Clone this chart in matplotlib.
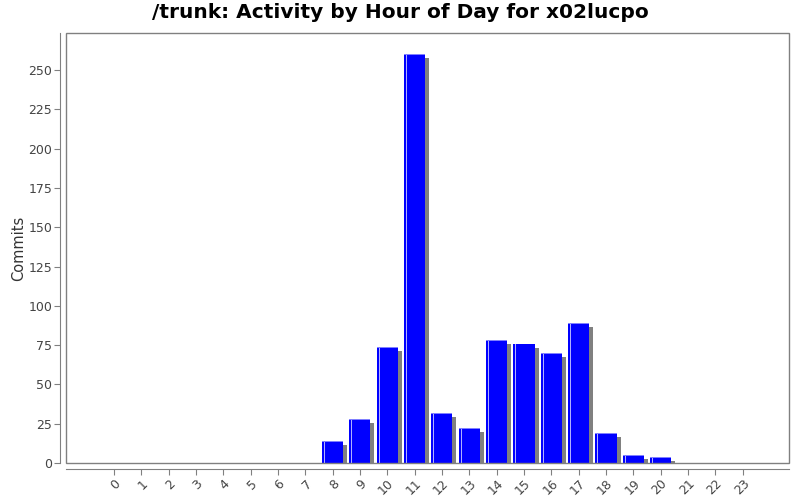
import matplotlib
matplotlib.use("Agg")
import matplotlib.pyplot as plt
import matplotlib.transforms as mtransforms
from matplotlib.patches import Rectangle

hours = list(range(24))
commits = [0, 0, 0, 0, 0, 0, 0, 0, 14, 28, 74, 260, 32, 22, 78, 76, 70, 89, 19, 5, 4, 0, 0, 0]
hour_labels = [str(h) for h in hours]

grey = "#808080"
text_col = "#444444"
width = 0.77

fig = plt.figure(figsize=(8, 5), dpi=100)
ax = fig.add_axes([0.0825, 0.074, 0.904, 0.86])

# shadow
shadow = mtransforms.offset_copy(ax.transData, fig=fig, x=4, y=-4, units="dots")
ax.bar(hours, commits, width=width, color=grey, transform=shadow, zorder=1)
# bars
ax.bar(hours, commits, width=width, color="#0000ff", zorder=2)
# light highlight stripe near left edge and on top
stripe_x = [h - width / 2 + 0.09 for h in hours]
ax.bar(stripe_x, commits, width=0.04, color="#b0b0ff", zorder=3)
ax.bar(hours, [0.6 if c else 0 for c in commits], bottom=[c - 0.6 for c in commits],
       width=width, color="#8080ff", zorder=3)

ax.set_xlim(-1.75, 24.7)
ax.set_ylim(0, 273.6)
ax.set_yticks(range(0, 251, 25))
ax.set_xticks(hours)
ax.set_xticklabels(hour_labels)

for s in ["top", "right"]:
    ax.spines[s].set_visible(False)
for s in ["left", "bottom"]:
    ax.spines[s].set_position(("outward", 4))
    ax.spines[s].set_color(grey)
ax.add_patch(Rectangle((0, 0), 1, 1, transform=ax.transAxes, fill=False,
                       edgecolor=grey, linewidth=1, clip_on=False, zorder=5))

ax.tick_params(axis="both", colors=grey, labelcolor=text_col, labelsize=9, length=4, pad=2)
plt.setp(ax.get_xticklabels(), rotation=45, ha="right", va="top", rotation_mode="anchor")

ax.set_ylabel("Commits", fontsize=10.5, color="#333333")
ax.yaxis.set_label_coords(-0.055, 0.5)
fig.suptitle("/trunk: Activity by Hour of Day for x02lucpo", fontsize=14.5, fontweight="bold", y=0.995)

fig.savefig("out.png", dpi=100)
